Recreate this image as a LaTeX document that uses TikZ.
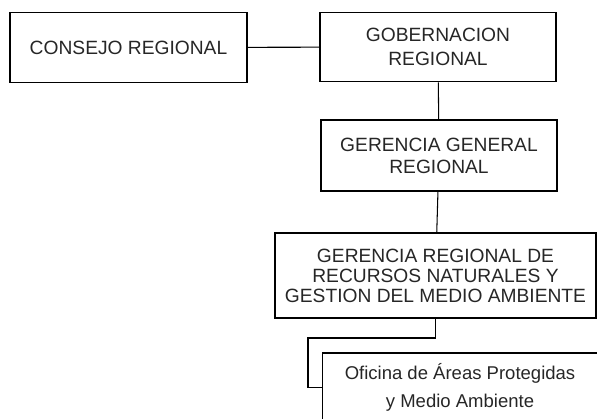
\documentclass[tikz,border=0pt]{standalone}
\usepackage{fontspec}
\setmainfont{Liberation Sans}

\begin{document}
\begin{tikzpicture}[x=0.03cm, y=-0.03cm,
    unidad/.style = {rectangle, draw, line width=1.3pt, align=center,
      inner sep=0pt, text=black!85},
    enlace/.style = {line width=0.9pt},
  ]
\useasboundingbox (0,0) rectangle (597,418);
\node[unidad, minimum width=7.11cm, minimum height=2.1cm,
      font=\fontsize{16.4}{20}\selectfont] (consejo) at (128.5,47.5)
    {CONSEJO REGIONAL};
\node[unidad, minimum width=7.08cm, minimum height=2.07cm,
      font=\fontsize{16.4}{20.5}\selectfont] (gob) at (438,47)
    {GOBERNACION\\REGIONAL};
\node[unidad, minimum width=7.08cm, minimum height=2.13cm,
      font=\fontsize{16.4}{18.8}\selectfont] (gergen) at (439,155.5)
    {GERENCIA GENERAL\\REGIONAL};
\node[unidad, minimum width=9.63cm, minimum height=2.55cm,
      font=\fontsize{16.4}{17}\selectfont] (gerrn) at (435.5,275.5)
    {GERENCIA REGIONAL DE\\RECURSOS NATURALES Y\\GESTION DEL MEDIO AMBIENTE};
\node[unidad, minimum width=8.25cm, minimum height=2.07cm,
      font=\fontsize{15.8}{23.9}\selectfont] (oficina) at (460,387.5)
    {Oficina de Áreas Protegidas\\y Medio Ambiente};
\coordinate (codo) at (308,338);

\draw[enlace] (consejo) -- (gob);
\draw[enlace] (gob) -- (gergen);
\draw[enlace] (gergen) -- (gerrn);
\draw[enlace] (gerrn.south) |- (codo) |- (oficina.west);
\end{tikzpicture}
\end{document}
